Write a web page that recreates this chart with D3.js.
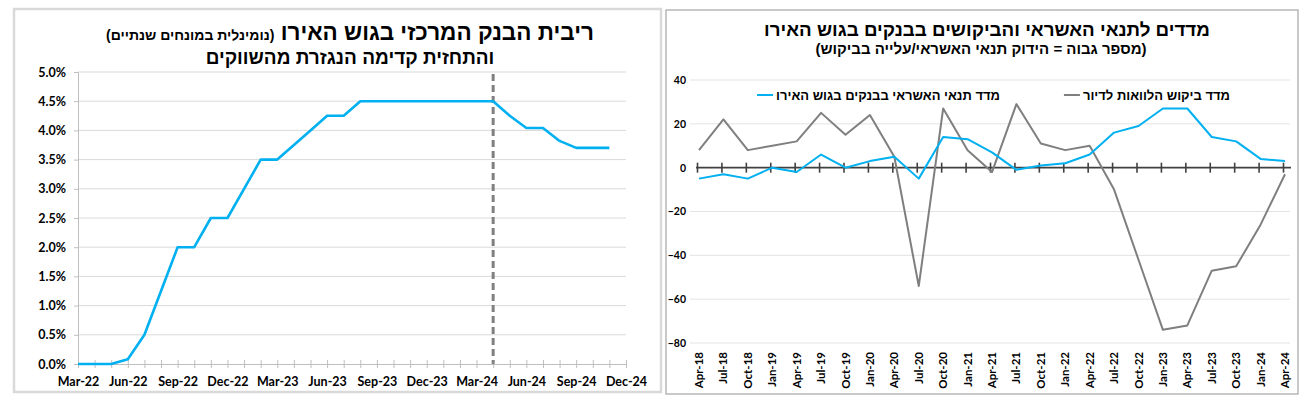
<!DOCTYPE html>
<html><head><meta charset="utf-8">
<script src="https://cdn.jsdelivr.net/npm/d3@7"></script>
<style>body{margin:0;background:#fff}svg{display:block}</style>
</head><body>
<svg id="c" width="1308" height="404"></svg>
<script>
// ---------- Left chart data ----------
const months = ["Mar-22","Apr-22","May-22","Jun-22","Jul-22","Aug-22","Sep-22","Oct-22","Nov-22","Dec-22",
 "Jan-23","Feb-23","Mar-23","Apr-23","May-23","Jun-23","Jul-23","Aug-23","Sep-23","Oct-23","Nov-23","Dec-23",
 "Jan-24","Feb-24","Mar-24","Apr-24","May-24","Jun-24","Jul-24","Aug-24","Sep-24","Oct-24","Nov-24","Dec-24"];
const ecbRate = [0,0,0,0.08,0.5,1.25,2.0,2.0,2.5,2.5,3.0,3.5,3.5,3.75,4.0,4.25,4.25,4.5,4.5,4.5,4.5,4.5,
 4.5,4.5,4.5,4.5,4.25,4.04,4.04,3.82,3.70,3.70,3.70];
const monthLabels = ["Mar-22","Jun-22","Sep-22","Dec-22","Mar-23","Jun-23","Sep-23","Dec-23","Mar-24","Jun-24","Sep-24","Dec-24"];
const rateTicks = [0,0.5,1.0,1.5,2.0,2.5,3.0,3.5,4.0,4.5,5.0];
const forecastStart = "Apr-24";

// ---------- Right chart data ----------
const quarters = ["Apr-18","Jul-18","Oct-18","Jan-19","Apr-19","Jul-19","Oct-19","Jan-20","Apr-20","Jul-20","Oct-20","Jan-21",
 "Apr-21","Jul-21","Oct-21","Jan-22","Apr-22","Jul-22","Oct-22","Jan-23","Apr-23","Jul-23","Oct-23","Jan-24","Apr-24"];
const creditStandards = [-5,-3,-5,0,-2,6,0,3,5,-5,14,13,7,-1,1,2,6,16,19,27,27,14,12,4,3];
const housingDemand = [8,22,8,10,12,25,15,24,5,-54,27,8,-2,29,11,8,10,-10,-42,-74,-72,-47,-45,-26,-3];
const indexTicks = [-80,-60,-40,-20,0,20,40];
const seriesNames = ["מדד תנאי האשראי בבנקים בגוש האירו","מדד ביקוש הלוואות לדיור"];

const svg = d3.select("#c");
const BLUE = "#00b0f0", GRAY = "#7f7f7f";
const numFont = "Lato, 'Liberation Sans', sans-serif";
const hebFont = "'Liberation Sans', Arial, sans-serif";

// ================= LEFT PANEL =================
svg.append("rect").attr("x",14).attr("y",9).attr("width",647).attr("height",383)
  .attr("fill","#fff").attr("stroke","#d9d9d9").attr("stroke-width",2.5);

const t1 = svg.append("text").attr("x",350).attr("y",40).attr("text-anchor","middle")
  .attr("direction","rtl").attr("font-family",hebFont).attr("font-weight","bold").attr("fill","#000");
t1.append("tspan").attr("font-size",22.5).text("ריבית הבנק המרכזי בגוש האירו ");
t1.append("tspan").attr("font-size",14).text("(נומינלית במונחים שנתיים)");
svg.append("text").attr("x",350).attr("y",64).attr("text-anchor","middle").attr("direction","rtl")
  .attr("font-family",hebFont).attr("font-weight","bold").attr("font-size",19).text("והתחזית קדימה הנגזרת מהשווקים");

const xL = d3.scalePoint().domain(months).range([78,626]);
const yL = d3.scaleLinear().domain([0,5]).range([364,72]);

svg.append("g").selectAll("line").data(rateTicks.filter(d=>d>0)).join("line")
  .attr("x1",78).attr("x2",626).attr("y1",d=>yL(d)).attr("y2",d=>yL(d))
  .attr("stroke","#d9d9d9").attr("stroke-width",1);

const yAxL = svg.append("g").attr("transform","translate(78,0)")
  .call(d3.axisLeft(yL).tickValues(rateTicks).tickFormat(d=>d.toFixed(1)+"%").tickSize(4).tickPadding(8));
yAxL.select(".domain").attr("stroke","#bfbfbf");
yAxL.selectAll(".tick line").attr("stroke","#bfbfbf");
yAxL.selectAll("text").attr("font-family",numFont).attr("font-weight","bold").attr("font-size",12.5).attr("fill","#000");

const xAxL = svg.append("g").attr("transform","translate(0,364)")
  .call(d3.axisBottom(xL).tickSizeInner(5).tickSizeOuter(0).tickPadding(6)
    .tickFormat(d=>monthLabels.includes(d)?d:""));
xAxL.select(".domain").attr("stroke","#bfbfbf");
xAxL.selectAll(".tick line").attr("stroke","#bfbfbf").attr("y1",-4).attr("y2",4);
xAxL.selectAll("text").attr("font-family",numFont).attr("font-weight","bold").attr("font-size",12.5).attr("fill","#000").attr("dy","0.9em");

svg.append("line").attr("x1",xL(forecastStart)).attr("x2",xL(forecastStart)).attr("y1",74).attr("y2",364)
  .attr("stroke","#808080").attr("stroke-width",3).attr("stroke-dasharray","7,4");

svg.append("path").datum(ecbRate)
  .attr("d",d3.line().x((d,i)=>xL(months[i])).y(d=>yL(d)))
  .attr("fill","none").attr("stroke",BLUE).attr("stroke-width",2.6).attr("stroke-linejoin","round");

// ================= RIGHT PANEL =================
svg.append("rect").attr("x",666).attr("y",10).attr("width",632).attr("height",384)
  .attr("fill","#fff").attr("stroke","#a6a6a6").attr("stroke-width",1.2);

svg.append("text").attr("x",987).attr("y",36).attr("text-anchor","middle").attr("direction","rtl")
  .attr("font-family",hebFont).attr("font-weight","bold").attr("font-size",18.8).text("מדדים לתנאי האשראי והביקושים בבנקים בגוש האירו");
svg.append("text").attr("x",981).attr("y",54).attr("text-anchor","middle").attr("direction","rtl")
  .attr("font-family",hebFont).attr("font-weight","bold").attr("font-size",15).text("(מספר גבוה = הידוק תנאי האשראי/עלייה בביקוש)");

const xR = d3.scalePoint().domain(quarters).range([699,1285]);
const yR = d3.scaleLinear().domain([-80,40]).range([343,80]);

svg.append("g").selectAll("line").data(indexTicks.filter(d=>d!==0)).join("line")
  .attr("x1",690).attr("x2",1290).attr("y1",d=>yR(d)).attr("y2",d=>yR(d))
  .attr("stroke","#e3e3e3").attr("stroke-width",1);

const yAxR = svg.append("g").attr("transform","translate(689,0)")
  .call(d3.axisLeft(yR).tickValues(indexTicks).tickSize(0).tickPadding(3));
yAxR.select(".domain").remove();
yAxR.selectAll("text").attr("font-family",numFont).attr("font-weight","bold").attr("font-size",10.5).attr("fill","#000");

// zero axis with tick marks
const zAx = svg.append("g").attr("transform",`translate(0,${yR(0)})`)
  .call(d3.axisBottom(xR).tickSizeInner(5).tickSizeOuter(0).tickFormat(""));
zAx.select(".domain").attr("stroke","#404040").attr("stroke-width",1.6).attr("d",`M${xR.range()[0]-3},0H1291`);
zAx.selectAll(".tick line").attr("stroke","#404040").attr("stroke-width",1.6).attr("y1",-5).attr("y2",5)
  .attr("transform","translate(-2,0)");

// rotated x labels at bottom
svg.append("g").selectAll("text").data(quarters).join("text")
  .attr("transform",d=>`translate(${xR(d)+4},352) rotate(-90)`)
  .attr("text-anchor","end").attr("font-family",numFont).attr("font-weight","bold").attr("font-size",11.5)
  .text(d=>d);

const lineR = d3.line().x((d,i)=>xR(quarters[i])).y(d=>yR(d));
svg.append("path").datum(housingDemand).attr("d",lineR)
  .attr("fill","none").attr("stroke",GRAY).attr("stroke-width",2).attr("stroke-linejoin","round");
svg.append("path").datum(creditStandards).attr("d",lineR)
  .attr("fill","none").attr("stroke",BLUE).attr("stroke-width",2).attr("stroke-linejoin","round");

// legend
const legend = [{name:seriesNames[0],color:BLUE,x:1000},{name:seriesNames[1],color:GRAY,x:1230}];
const lg = svg.append("g").selectAll("g").data(legend).join("g");
lg.append("text").attr("x",d=>d.x).attr("y",100).attr("text-anchor","start").attr("direction","rtl")
  .attr("font-family",hebFont).attr("font-weight","bold").attr("font-size",13).text(d=>d.name)
  .each(function(d){ d.w = this.getComputedTextLength(); });
lg.append("line").attr("x1",d=>d.x-d.w-19).attr("x2",d=>d.x-d.w-3).attr("y1",95).attr("y2",95)
  .attr("stroke",d=>d.color).attr("stroke-width",2);
</script>
</body></html>
